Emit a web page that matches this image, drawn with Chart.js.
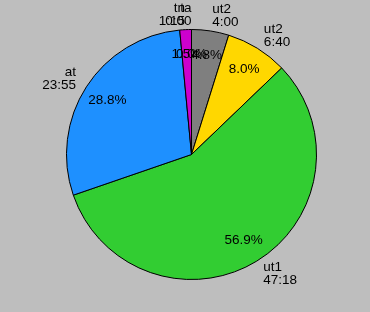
<!DOCTYPE html>
<html>
<head>
<meta charset="utf-8">
<script src="https://cdn.jsdelivr.net/npm/chart.js@4"></script>
<style>
  body { margin: 0; background: #bebebe; }
  canvas { display: block; }
</style>
</head>
<body>
<canvas id="myChart" width="370" height="312"></canvas>
<script>
"use strict";
// slice names and durations in seconds, clockwise from 12 o'clock
const names = ["ut2", "ut2", "ut1", "at", "tn", "ta"];
const seconds = [240, 400, 2838, 1435, 75, 0];
const colors = ["#7f7f7f", "#ffd700", "#32cd32", "#1e90ff", "#cd00cd", "#ff0000"];

const fmtTime = s => Math.floor(s / 60) + ":" + String(s % 60).padStart(2, "0");
const total = seconds.reduce((a, b) => a + b, 0);

const labelPlugin = {
    id: "pieLabels",
    afterDatasetsDraw(chart) {
        const ctx = chart.ctx;
        const arcs = chart.getDatasetMeta(0).data;
        ctx.save();
        ctx.fillStyle = "#000";
        ctx.font = "13.5px 'Liberation Sans', Arial, sans-serif";
        ctx.textBaseline = "middle";
        arcs.forEach((arc, i) => {
            const p = arc.getProps(["x", "y", "startAngle", "endAngle", "outerRadius"], true);
            const mid = (p.startAngle + p.endAngle) / 2;
            const c = Math.cos(mid), s = Math.sin(mid);
            // percentage inside
            ctx.textAlign = "center";
            const pct = (seconds[i] / total * 100).toFixed(1) + "%";
            ctx.fillText(pct, p.x + c * p.outerRadius * 0.8, p.y + s * p.outerRadius * 0.8);
            // name and time outside; straight up counts as left side
            ctx.textAlign = c < 1e-6 ? "right" : "left";
            const lx = p.x + c * p.outerRadius * 1.1;
            const ly = p.y + s * p.outerRadius * 1.12;
            ctx.fillText(names[i], lx, ly - 6.5);
            ctx.fillText(fmtTime(seconds[i]), lx, ly + 6.5);
        });
        ctx.restore();
    }
};

const ctx = document.querySelector("#myChart").getContext("2d");
const myChart = new Chart(ctx, {
    type: "pie",
    data: {
        labels: names,
        datasets: [{
            data: seconds,
            backgroundColor: colors,
            borderColor: "#000",
            borderWidth: 1
        }]
    },
    options: {
        responsive: false,
        animation: false,
        layout: { padding: { left: 66, right: 53, top: 29, bottom: 32 } },
        plugins: {
            legend: { display: false },
            tooltip: { enabled: false }
        }
    },
    plugins: [labelPlugin]
});
</script>
</body>
</html>
